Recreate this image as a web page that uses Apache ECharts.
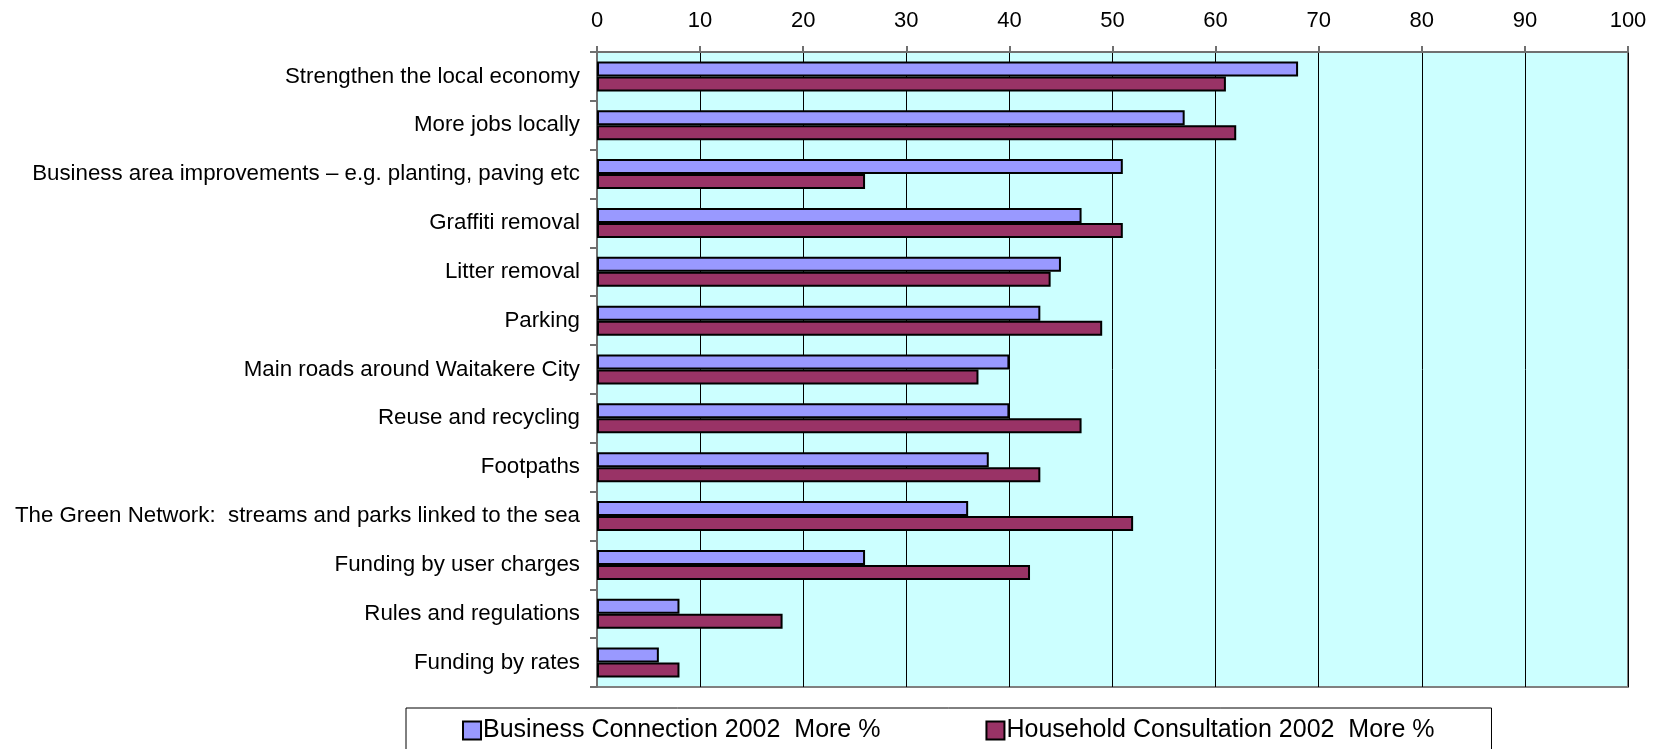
<!DOCTYPE html>
<html>
<head>
<meta charset="utf-8">
<script src="https://cdn.jsdelivr.net/npm/echarts@6/dist/echarts.min.js"></script>
<style>
  html, body { margin: 0; padding: 0; background: #fff; }
  #chart { width: 1659px; height: 749px; }
</style>
</head>
<body>
<div id="chart"></div>
<script>
const categories = [
  'Strengthen the local economy',
  'More jobs locally',
  'Business area improvements \u2013 e.g. planting, paving etc',
  'Graffiti removal',
  'Litter removal',
  'Parking',
  'Main roads around Waitakere City',
  'Reuse and recycling',
  'Footpaths',
  'The Green Network:  streams and parks linked to the sea',
  'Funding by user charges',
  'Rules and regulations',
  'Funding by rates'
]
const businessValues = [68, 57, 51, 47, 45, 43, 40, 40, 38, 36, 26, 8, 6]
const householdValues = [61, 62, 26, 51, 44, 49, 37, 47, 43, 52, 42, 18, 8]
const xTicks = [0, 100, 10]

const chart = echarts.init(document.getElementById('chart'))
const font = 'Liberation Sans, Arial, sans-serif'

chart.setOption({
  animation: false,
  textStyle: { fontFamily: font },
  grid: {
    left: 597,
    right: 31,
    top: 52,
    bottom: 62,
    show: true,
    backgroundColor: '#CCFFFF',
    borderColor: '#808080',
    borderWidth: 2
  },
  legend: {
    left: 406,
    top: 708,
    width: 1100,
    padding: [10, 57, 30, 56],
    itemGap: 105,
    itemWidth: 18,
    itemHeight: 18,
    icon: 'rect',
    borderColor: '#000',
    borderWidth: 1,
    textStyle: { fontSize: 25, color: '#000', fontFamily: font, padding: [0, 0, 0, -3] },
    data: ['Business Connection 2002  More %', 'Household Consultation 2002  More %']
  },
  xAxis: {
    type: 'value',
    position: 'top',
    min: xTicks[0],
    max: xTicks[1],
    interval: xTicks[2],
    axisLine: { show: true, lineStyle: { color: '#707070', width: 2 } },
    axisTick: { show: true, length: 6, lineStyle: { color: '#707070', width: 2 } },
    axisLabel: { fontSize: 22, color: '#000', margin: 20 },
    splitLine: { show: true, lineStyle: { color: '#000', width: 1 } }
  },
  yAxis: {
    type: 'category',
    inverse: true,
    data: categories,
    axisLine: { show: true, lineStyle: { color: '#707070', width: 2 } },
    axisTick: { show: true, length: 7, lineStyle: { color: '#707070', width: 2 } },
    axisLabel: { fontSize: 22.3, color: '#000', margin: 17 }
  },
  series: [
    {
      name: 'Business Connection 2002  More %',
      type: 'bar',
      barWidth: 15,
      barGap: '0%',
      data: businessValues,
      itemStyle: { color: '#9999FF', borderColor: '#000', borderWidth: 2 }
    },
    {
      name: 'Household Consultation 2002  More %',
      type: 'bar',
      barWidth: 15,
      barGap: '0%',
      data: householdValues,
      itemStyle: { color: '#993366', borderColor: '#000', borderWidth: 2 }
    }
  ]
})
</script>
</body>
</html>
